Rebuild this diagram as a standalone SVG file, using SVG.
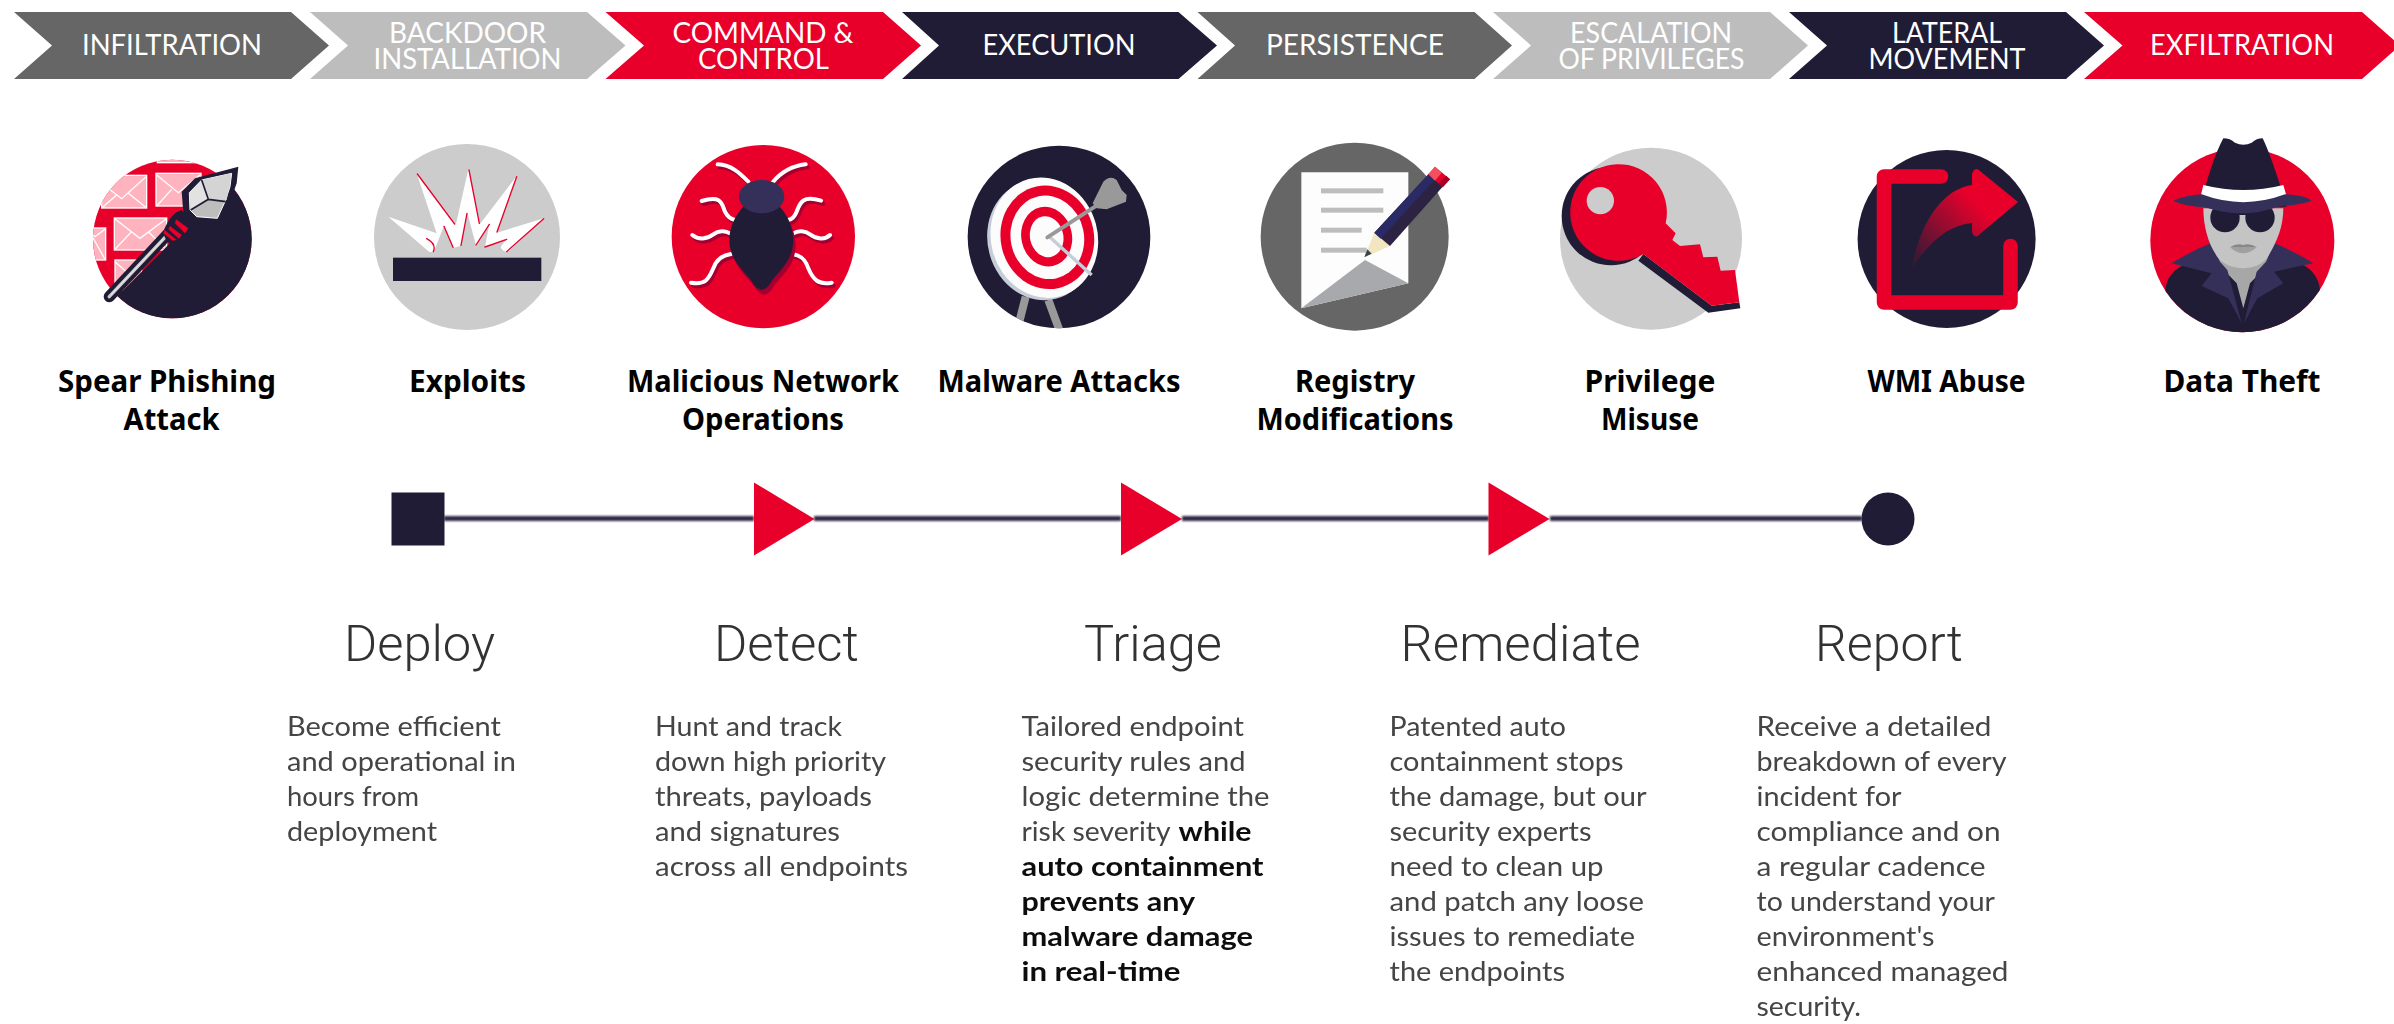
<svg xmlns="http://www.w3.org/2000/svg" width="2394" height="1024" viewBox="0 0 2394 1024">
<style>
.bg{fill:#fff}
.dk{fill:#666}.lt{fill:#bdbdbd}.rd{fill:#e8002b}.nv{fill:#211c36}.cl{fill:#35305a}.gy{fill:#ccc}
.ch{font:400 28px "Lato","Liberation Sans",sans-serif;fill:#fff;text-anchor:middle}
.lb{font:700 31px "Noto Sans","DejaVu Sans",sans-serif;fill:#000;text-anchor:middle}
.hd{font:300 50px "Roboto","Liberation Sans",sans-serif;fill:#333;text-anchor:middle}
.bd{font:400 27px "Lato","Liberation Sans",sans-serif;fill:#444}
.bb{font:700 27px "Lato","Liberation Sans",sans-serif;fill:#111}
.soft{filter:url(#soft)}
.link{stroke:#2e2a45;stroke-width:5;fill:none}
.env{fill:#ffb3bf;stroke:#fff;stroke-width:4}
.fl{fill:none;stroke:#fff;stroke-width:4}
.leg{fill:none;stroke:#fff;stroke-width:12;stroke-linecap:round}
.lgs{fill:none;stroke:#a30030;stroke-width:12;stroke-linecap:round}
.rl{fill:none;stroke:#e8002b;stroke-width:4;stroke-linecap:round}
</style>
<defs>
<filter id="soft" x="-5%" y="-5%" width="110%" height="110%" filterUnits="objectBoundingBox" primitiveUnits="userSpaceOnUse"><feGaussianBlur stdDeviation="0.6"/></filter>
<filter id="softl" x="0" y="500" width="2394" height="40" filterUnits="userSpaceOnUse"><feGaussianBlur stdDeviation="0.8"/></filter>
<clipPath id="c1"><circle cx="277" cy="267" r="238"/></clipPath>
<clipPath id="c4"><circle cx="297" cy="291" r="274"/></clipPath>
<clipPath id="c8"><circle cx="307" cy="331" r="276"/></clipPath>
<linearGradient id="ag" gradientUnits="userSpaceOnUse" x1="1911" y1="270" x2="1978" y2="205"><stop offset="0" stop-color="#e8002b" stop-opacity="0"/><stop offset="1" stop-color="#e8002b"/></linearGradient>
</defs>
<rect class="bg" width="2394" height="1024"/>

<g id="stage-infiltration"><polygon class="dk" points="14,12 291,12 329,45.500 291,79 14,79 52,45.500"/><text class="ch" x="172" y="54.500" textLength="180" lengthAdjust="spacingAndGlyphs">INFILTRATION</text></g>
<g id="stage-backdoor"><polygon class="lt" points="310,12 587,12 625.500,45.500 587,79 310,79 348,45.500"/><text class="ch" x="467.500" y="42.500" textLength="157" lengthAdjust="spacingAndGlyphs">BACKDOOR</text><text class="ch" x="467.500" y="68.500" textLength="188" lengthAdjust="spacingAndGlyphs">INSTALLATION</text></g>
<g id="stage-command"><polygon class="rd" points="605.500,12 883,12 921,45.500 883,79 605.500,79 644,45.500"/><text class="ch" x="763" y="42.500" textLength="181" lengthAdjust="spacingAndGlyphs">COMMAND &amp;</text><text class="ch" x="763.500" y="68.500" textLength="131" lengthAdjust="spacingAndGlyphs">CONTROL</text></g>
<g id="stage-execution"><polygon class="nv" points="902,12 1178.500,12 1217,45.500 1178.500,79 902,79 939,45.500"/><text class="ch" x="1059" y="54.500" textLength="153" lengthAdjust="spacingAndGlyphs">EXECUTION</text></g>
<g id="stage-persistence"><polygon class="dk" points="1197.500,12 1474.500,12 1512,45.500 1474.500,79 1197.500,79 1235,45.500"/><text class="ch" x="1355" y="54.500" textLength="178" lengthAdjust="spacingAndGlyphs">PERSISTENCE</text></g>
<g id="stage-escalation"><polygon class="lt" points="1493,12 1770,12 1808,45.500 1770,79 1493,79 1531,45.500"/><text class="ch" x="1651" y="42.500" textLength="162" lengthAdjust="spacingAndGlyphs">ESCALATION</text><text class="ch" x="1651.500" y="68.500" textLength="186" lengthAdjust="spacingAndGlyphs">OF PRIVILEGES</text></g>
<g id="stage-lateral"><polygon class="nv" points="1789,12 2066,12 2104,45.500 2066,79 1789,79 1827,45.500"/><text class="ch" x="1947" y="42.500" textLength="110" lengthAdjust="spacingAndGlyphs">LATERAL</text><text class="ch" x="1947" y="68.500" textLength="157" lengthAdjust="spacingAndGlyphs">MOVEMENT</text></g>
<g id="stage-exfiltration"><polygon class="rd" points="2084,12 2362,12 2394,40.200 2394,50.800 2362,79 2084,79 2122.500,45.500"/><text class="ch" x="2242" y="54.500" textLength="184" lengthAdjust="spacingAndGlyphs">EXFILTRATION</text></g>

<g id="attack-spear-phishing">
<g transform="translate(80 150) scale(.33333)">
<g clip-path="url(#c1)">
<rect class="rd" x="30" y="20" width="500" height="500"/>
<rect class="env" x="232" y="22" width="130" height="16"/>
<rect class="env" x="65" y="76" width="135" height="98"/><path class="fl" d="M65,100L125,146L198,80M65,174L110,135M200,174L145,130"/>
<rect class="env" x="228" y="70" width="135" height="98"/><path class="fl" d="M230,75L295,128L360,75M230,168L275,118M360,168L315,118"/>
<rect class="env" x="103" y="204" width="157" height="96"/><path class="fl" d="M105,207L180,265L258,207M105,298L155,245M258,298L205,245"/>
<rect class="env" x="20" y="234" width="57" height="96"/><path class="fl" d="M20,240L45,260L75,238M20,290L40,265L75,328"/>
<rect class="env" x="105" y="330" width="80" height="90"/><path class="fl" d="M105,335L150,375"/>
<polygon class="nv" points="100,450 230,320 300,250 470,80 530,80 530,520 100,520"/>
</g>
<path d="M88,440L270,245" stroke="#211c36" stroke-width="34" stroke-linecap="round" fill="none"/>
<path d="M88,440L255,262" stroke="#ccc" stroke-width="10" stroke-linecap="round" fill="none"/>
<path d="M92,436L250,267" stroke="#fff" stroke-width="2" fill="none"/>
<polygon class="nv" points="475,50 345,85 305,125 310,190 330,218 415,222 447,165 470,100"/>
<path class="nv" d="M250,245Q270,190 305,180L340,225Q320,270 285,290Q255,280 250,245Z"/>
<path class="rd" d="M254,240L290,270L278,272L250,250ZM270,228L305,255L297,266L265,238ZM288,208L325,235L315,250L285,220Z"/>
<polygon points="455,70 365,90 328,128 330,180 350,200 412,205 435,155 450,110" fill="#bdbdbd" stroke="#fff" stroke-width="3"/>
<polygon points="365,90 455,70 440,150 385,148" fill="#d4d4d4"/>
<polygon points="328,128 365,90 385,148 332,180" fill="#e2e2e2"/>
<path d="M365,90L385,148L332,180M385,148L437,155" stroke="#211c36" stroke-width="5" fill="none"/>
</g>
<text class="lb" x="167" y="392" textLength="218" lengthAdjust="spacingAndGlyphs">Spear Phishing</text><text class="lb" x="171.500" y="430" textLength="96" lengthAdjust="spacingAndGlyphs">Attack</text>
</g>

<g id="attack-exploits">
<g transform="translate(370 140) scale(.33333)">
<circle class="gy" cx="291" cy="291" r="279"/>
<rect class="nv" x="69" y="353" width="445" height="70"/>
<path fill="#fff" d="M55,230L200,280L140,100L258,252L295,88L330,252L440,108L380,278L522,235L415,335Q395,335 392,320L410,298L345,322L358,252L318,316L292,218L272,318L250,323L222,258L198,318Q195,338 178,336Z"/>
<path class="rl" d="M142,102L254,252M297,90L328,250M440,110L381,276M521,236L410,335M410,298L345,321M358,253L318,315M291,220L273,316M222,259L249,322M170,296Q200,312 190,335"/>
</g>
<text class="lb" x="467.500" y="392" textLength="117" lengthAdjust="spacingAndGlyphs">Exploits</text>
</g>

<g id="attack-network">
<g transform="translate(665 140) scale(.33333)">
<circle class="rd" cx="295" cy="290" r="275"/>
<g transform="translate(6 9)">
<path class="lgs" d="M158,73C200,75 225,100 250,125M422,73C380,78 345,100 322,128M110,183C170,165 170,190 180,215C188,232 200,238 210,240M468,182C410,165 405,190 395,215C388,232 380,238 370,240M82,285C100,300 125,298 145,283C160,272 180,270 195,280M495,285C480,300 455,298 435,283C420,272 400,270 385,280M78,428C120,435 130,420 145,385C155,355 175,345 198,342M500,428C460,435 445,420 430,385C420,355 405,345 382,342"/>
</g>
<path class="leg" d="M158,73C200,75 225,100 250,125M422,73C380,78 345,100 322,128M110,183C170,165 170,190 180,215C188,232 200,238 210,240M468,182C410,165 405,190 395,215C388,232 380,238 370,240M82,285C100,300 125,298 145,283C160,272 180,270 195,280M495,285C480,300 455,298 435,283C420,272 400,270 385,280M78,428C120,435 130,420 145,385C155,355 175,345 198,342M500,428C460,435 445,420 430,385C420,355 405,345 382,342"/>
<path fill="#a30030" d="M290,170C350,180 385,250 385,300C385,370 330,400 312,436Q290,462 268,436C250,400 193,370 193,300C193,250 230,180 290,170Z" transform="translate(7 15)"/>
<path class="nv" d="M290,170C350,180 385,250 385,300C385,370 330,400 312,436Q290,462 268,436C250,400 193,370 193,300C193,250 230,180 290,170Z"/>
<ellipse class="cl" cx="290" cy="170" rx="68" ry="50"/>
</g>
<text class="lb" x="763" y="392" textLength="272" lengthAdjust="spacingAndGlyphs">Malicious Network</text><text class="lb" x="763" y="430" textLength="162" lengthAdjust="spacingAndGlyphs">Operations</text>
</g>

<g id="attack-malware">
<g transform="translate(960 140) scale(.33333)">
<circle class="nv" cx="297" cy="291" r="274"/>
<g clip-path="url(#c4)"><path d="M197,470L178,545M265,480L300,575" stroke="#999" stroke-width="24" fill="none"/></g>
<ellipse cx="243" cy="300" rx="160" ry="182" fill="#c5ced8" transform="rotate(-15 243 300)"/>
<ellipse cx="253" cy="293" rx="160" ry="182" fill="#fcfcfc" transform="rotate(-15 253 293)"/>
<ellipse class="rd" cx="262" cy="292" rx="140" ry="156" transform="rotate(-12 262 292)"/>
<ellipse cx="262" cy="292" rx="110" ry="126" fill="#fcfcfc" transform="rotate(-12 262 292)"/>
<ellipse class="rd" cx="260" cy="290" rx="76" ry="90" transform="rotate(-12 260 290)"/>
<ellipse cx="260" cy="290" rx="50" ry="62" fill="#fcfcfc" transform="rotate(-12 260 290)"/>
<path d="M270,292L395,405" stroke="#c5ced8" stroke-width="10" fill="none"/>
<path d="M262,292L405,200" stroke="#999" stroke-width="12" stroke-linecap="round" fill="none"/>
<path fill="#999" d="M398,190L430,125Q450,105 470,120L485,150L500,165L498,185L440,208L410,205Z"/>
</g>
<text class="lb" x="1059" y="392" textLength="243" lengthAdjust="spacingAndGlyphs">Malware Attacks</text>
</g>

<g id="attack-registry">
<g transform="translate(1260 140) scale(.33333)">
<circle class="dk" cx="284" cy="290" r="282"/>
<path fill="#fdfdfd" d="M124,97H445V430L124,505Z"/>
<polygon points="315,360 445,430 124,505" fill="#a7a9ac"/>
<g class="lt"><rect x="183" y="145" width="187" height="15"/><rect x="183" y="203" width="187" height="15"/><rect x="183" y="263" width="122" height="15"/><rect x="183" y="323" width="137" height="15"/></g>
<polygon points="343,278 390,318 313,352" fill="#f2e6c0"/>
<polygon points="322,328 335,341 313,352" fill="#37474f"/>
<polygon points="343,278 508,100 548,140 390,318" fill="#2c2342"/>
<polygon points="343,278 508,100 525,118 362,296" fill="#2a2a66"/>
<polygon points="505,103 525,80 570,118 548,142" class="rd"/>
<polygon points="505,103 525,80 545,98 525,122" fill="#f0505f"/>
<polygon points="548,142 570,118 558,107 535,130" fill="#a50021"/>
</g>
<text class="lb" x="1355" y="392" textLength="120" lengthAdjust="spacingAndGlyphs">Registry</text><text class="lb" x="1355" y="430" textLength="197" lengthAdjust="spacingAndGlyphs">Modifications</text>
</g>

<g id="attack-privilege">
<g transform="translate(1555 140) scale(.33333)">
<circle class="gy" cx="288" cy="296" r="273"/>
<circle class="nv" cx="168" cy="228" r="148"/>
<polygon class="nv" points="265,342 470,497 553,487 556,505 460,518 250,362"/>
<path class="rd" d="M332,250L362,280L352,300L375,318L435,313L445,352L487,350L497,392L540,390L553,487L470,497L265,342A145,145 0 1 1 332,250Z"/>
<circle class="gy" cx="136" cy="182" r="41"/>
</g>
<text class="lb" x="1650" y="392" textLength="131" lengthAdjust="spacingAndGlyphs">Privilege</text><text class="lb" x="1650" y="430" textLength="98" lengthAdjust="spacingAndGlyphs">Misuse</text>
</g>

<g id="attack-wmi">
<circle class="nv" cx="1946.600" cy="239" r="89"/>
<path d="M1941,176.500H1884V302.500H2010.500V246" fill="none" stroke="#e8002b" stroke-width="14.500" stroke-linecap="round" stroke-linejoin="round"/>
<path fill="url(#ag)" d="M1911,270C1920,225 1940,190 1972,185L1972,174Q1975,166 1980,171L2018,202L1980,234Q1975,240 1972,232L1972,223C1950,225 1930,240 1911,270Z"/>
<text class="lb" x="1946.500" y="392" textLength="158" lengthAdjust="spacingAndGlyphs">WMI Abuse</text>
</g>

<g id="attack-data-theft">
<g transform="translate(2140 130) scale(.33333)">
<circle class="rd" cx="307" cy="331" r="276"/>
<g clip-path="url(#c8)">
<path class="nv" d="M76,480Q80,430 130,405L240,370H380L490,405Q535,430 540,480V620H76Z"/>
<polygon points="228,360 392,360 378,410 330,460 310,535 290,460 242,410" fill="#a7a7a7"/>
<path class="cl" d="M95,400Q150,365 212,340L240,395L262,420L305,580L265,505L185,468L215,430Z"/>
<path class="cl" d="M520,400Q465,365 403,340L378,395L350,425L312,580L352,505L430,460L402,425Z"/>
</g>
<path fill="#c4c4c4" d="M190,235L430,235C430,290 410,340 380,385C350,425 270,425 235,385C205,345 190,290 190,235Z"/>
<circle class="nv" cx="255" cy="263" r="44"/><circle class="nv" cx="360" cy="263" r="44"/>
<rect class="nv" x="285" y="248" width="45" height="7"/>
<path fill="#a0a0a0" d="M270,352Q310,388 350,352Z"/>
<path fill="#888" d="M270,352Q290,338 310,345Q330,338 350,352Z"/>
<path class="nv" d="M250,25Q270,25 285,38Q310,50 335,38Q350,25 368,25Q395,80 440,230H180Q215,90 250,25Z"/>
<path fill="#fff" d="M190,165Q310,195 430,165L442,207Q310,240 180,207Z"/>
<path class="cl" d="M100,212Q140,195 185,193Q310,240 435,193Q490,195 515,212Q480,225 420,228Q310,270 195,232Q130,228 100,212Z"/>
</g>
<text class="lb" x="2242" y="392" textLength="157" lengthAdjust="spacingAndGlyphs">Data Theft</text>
</g>

<g id="connectors" filter="url(#softl)">
<line class="link" x1="444" y1="518.500" x2="754" y2="518.500"/>
<line class="link" x1="814" y1="518.500" x2="1121" y2="518.500"/>
<line class="link" x1="1182" y1="518.500" x2="1489" y2="518.500"/>
<line class="link" x1="1550" y1="518.500" x2="1862" y2="518.500"/>
</g>

<g id="phase-deploy">
<rect class="nv" x="391.500" y="492.500" width="53" height="53"/>
<g class="soft">
<text class="hd" x="419.500" y="661" textLength="151" lengthAdjust="spacingAndGlyphs">Deploy</text>
<text class="bd" x="287" y="736" textLength="214" lengthAdjust="spacingAndGlyphs">Become efficient</text>
<text class="bd" x="287" y="771" textLength="229" lengthAdjust="spacingAndGlyphs">and operational in</text>
<text class="bd" x="287" y="806" textLength="132" lengthAdjust="spacingAndGlyphs">hours from</text>
<text class="bd" x="287" y="841" textLength="150" lengthAdjust="spacingAndGlyphs">deployment</text>
</g>
</g>
<g id="phase-detect">
<polygon class="rd" points="754,482.500 814.500,519 754,555.500"/>
<g class="soft">
<text class="hd" x="786.500" y="661" textLength="145" lengthAdjust="spacingAndGlyphs">Detect</text>
<text class="bd" x="655" y="736" textLength="187" lengthAdjust="spacingAndGlyphs">Hunt and track</text>
<text class="bd" x="655" y="771" textLength="231" lengthAdjust="spacingAndGlyphs">down high priority</text>
<text class="bd" x="655" y="806" textLength="217" lengthAdjust="spacingAndGlyphs">threats, payloads</text>
<text class="bd" x="655" y="841" textLength="185" lengthAdjust="spacingAndGlyphs">and signatures</text>
<text class="bd" x="655" y="876" textLength="253" lengthAdjust="spacingAndGlyphs">across all endpoints</text>
</g>
</g>
<g id="phase-triage">
<polygon class="rd" points="1121,482.500 1182,519 1121,555.500"/>
<g class="soft">
<text class="hd" x="1153" y="661" textLength="138" lengthAdjust="spacingAndGlyphs">Triage</text>
<text class="bd" x="1021.500" y="736" textLength="222.500" lengthAdjust="spacingAndGlyphs">Tailored endpoint</text>
<text class="bd" x="1021.500" y="771" textLength="224" lengthAdjust="spacingAndGlyphs">security rules and</text>
<text class="bd" x="1021.500" y="806" textLength="248" lengthAdjust="spacingAndGlyphs">logic determine the</text>
<text class="bd" x="1021.500" y="841" textLength="149" lengthAdjust="spacingAndGlyphs">risk severity</text>
<text class="bb" x="1178.500" y="841" textLength="73" lengthAdjust="spacingAndGlyphs">while</text>
<text class="bb" x="1021.500" y="876" textLength="242" lengthAdjust="spacingAndGlyphs">auto containment</text>
<text class="bb" x="1021.500" y="911" textLength="173.500" lengthAdjust="spacingAndGlyphs">prevents any</text>
<text class="bb" x="1021.500" y="946" textLength="231.500" lengthAdjust="spacingAndGlyphs">malware damage</text>
<text class="bb" x="1021.500" y="981" textLength="159" lengthAdjust="spacingAndGlyphs">in real-time</text>
</g>
</g>
<g id="phase-remediate">
<polygon class="rd" points="1488.500,482.500 1549.500,519 1488.500,555.500"/>
<g class="soft">
<text class="hd" x="1520.500" y="661" textLength="240" lengthAdjust="spacingAndGlyphs">Remediate</text>
<text class="bd" x="1389.500" y="736" textLength="176.500" lengthAdjust="spacingAndGlyphs">Patented auto</text>
<text class="bd" x="1389.500" y="771" textLength="234" lengthAdjust="spacingAndGlyphs">containment stops</text>
<text class="bd" x="1389.500" y="806" textLength="257" lengthAdjust="spacingAndGlyphs">the damage, but our</text>
<text class="bd" x="1389.500" y="841" textLength="202" lengthAdjust="spacingAndGlyphs">security experts</text>
<text class="bd" x="1389.500" y="876" textLength="214" lengthAdjust="spacingAndGlyphs">need to clean up</text>
<text class="bd" x="1389.500" y="911" textLength="254.500" lengthAdjust="spacingAndGlyphs">and patch any loose</text>
<text class="bd" x="1389.500" y="946" textLength="245.500" lengthAdjust="spacingAndGlyphs">issues to remediate</text>
<text class="bd" x="1389.500" y="981" textLength="175.500" lengthAdjust="spacingAndGlyphs">the endpoints</text>
</g>
</g>
<g id="phase-report">
<circle class="nv" cx="1888" cy="519" r="26.500"/>
<g class="soft">
<text class="hd" x="1889" y="661" textLength="148" lengthAdjust="spacingAndGlyphs">Report</text>
<text class="bd" x="1756.500" y="736" textLength="235" lengthAdjust="spacingAndGlyphs">Receive a detailed</text>
<text class="bd" x="1756.500" y="771" textLength="250" lengthAdjust="spacingAndGlyphs">breakdown of every</text>
<text class="bd" x="1756.500" y="806" textLength="145" lengthAdjust="spacingAndGlyphs">incident for</text>
<text class="bd" x="1756.500" y="841" textLength="244" lengthAdjust="spacingAndGlyphs">compliance and on</text>
<text class="bd" x="1756.500" y="876" textLength="229" lengthAdjust="spacingAndGlyphs">a regular cadence</text>
<text class="bd" x="1756.500" y="911" textLength="238.500" lengthAdjust="spacingAndGlyphs">to understand your</text>
<text class="bd" x="1756.500" y="946" textLength="178" lengthAdjust="spacingAndGlyphs">environment's</text>
<text class="bd" x="1756.500" y="981" textLength="252" lengthAdjust="spacingAndGlyphs">enhanced managed</text>
<text class="bd" x="1756.500" y="1016" textLength="104.500" lengthAdjust="spacingAndGlyphs">security.</text>
</g>
</g>
</svg>
